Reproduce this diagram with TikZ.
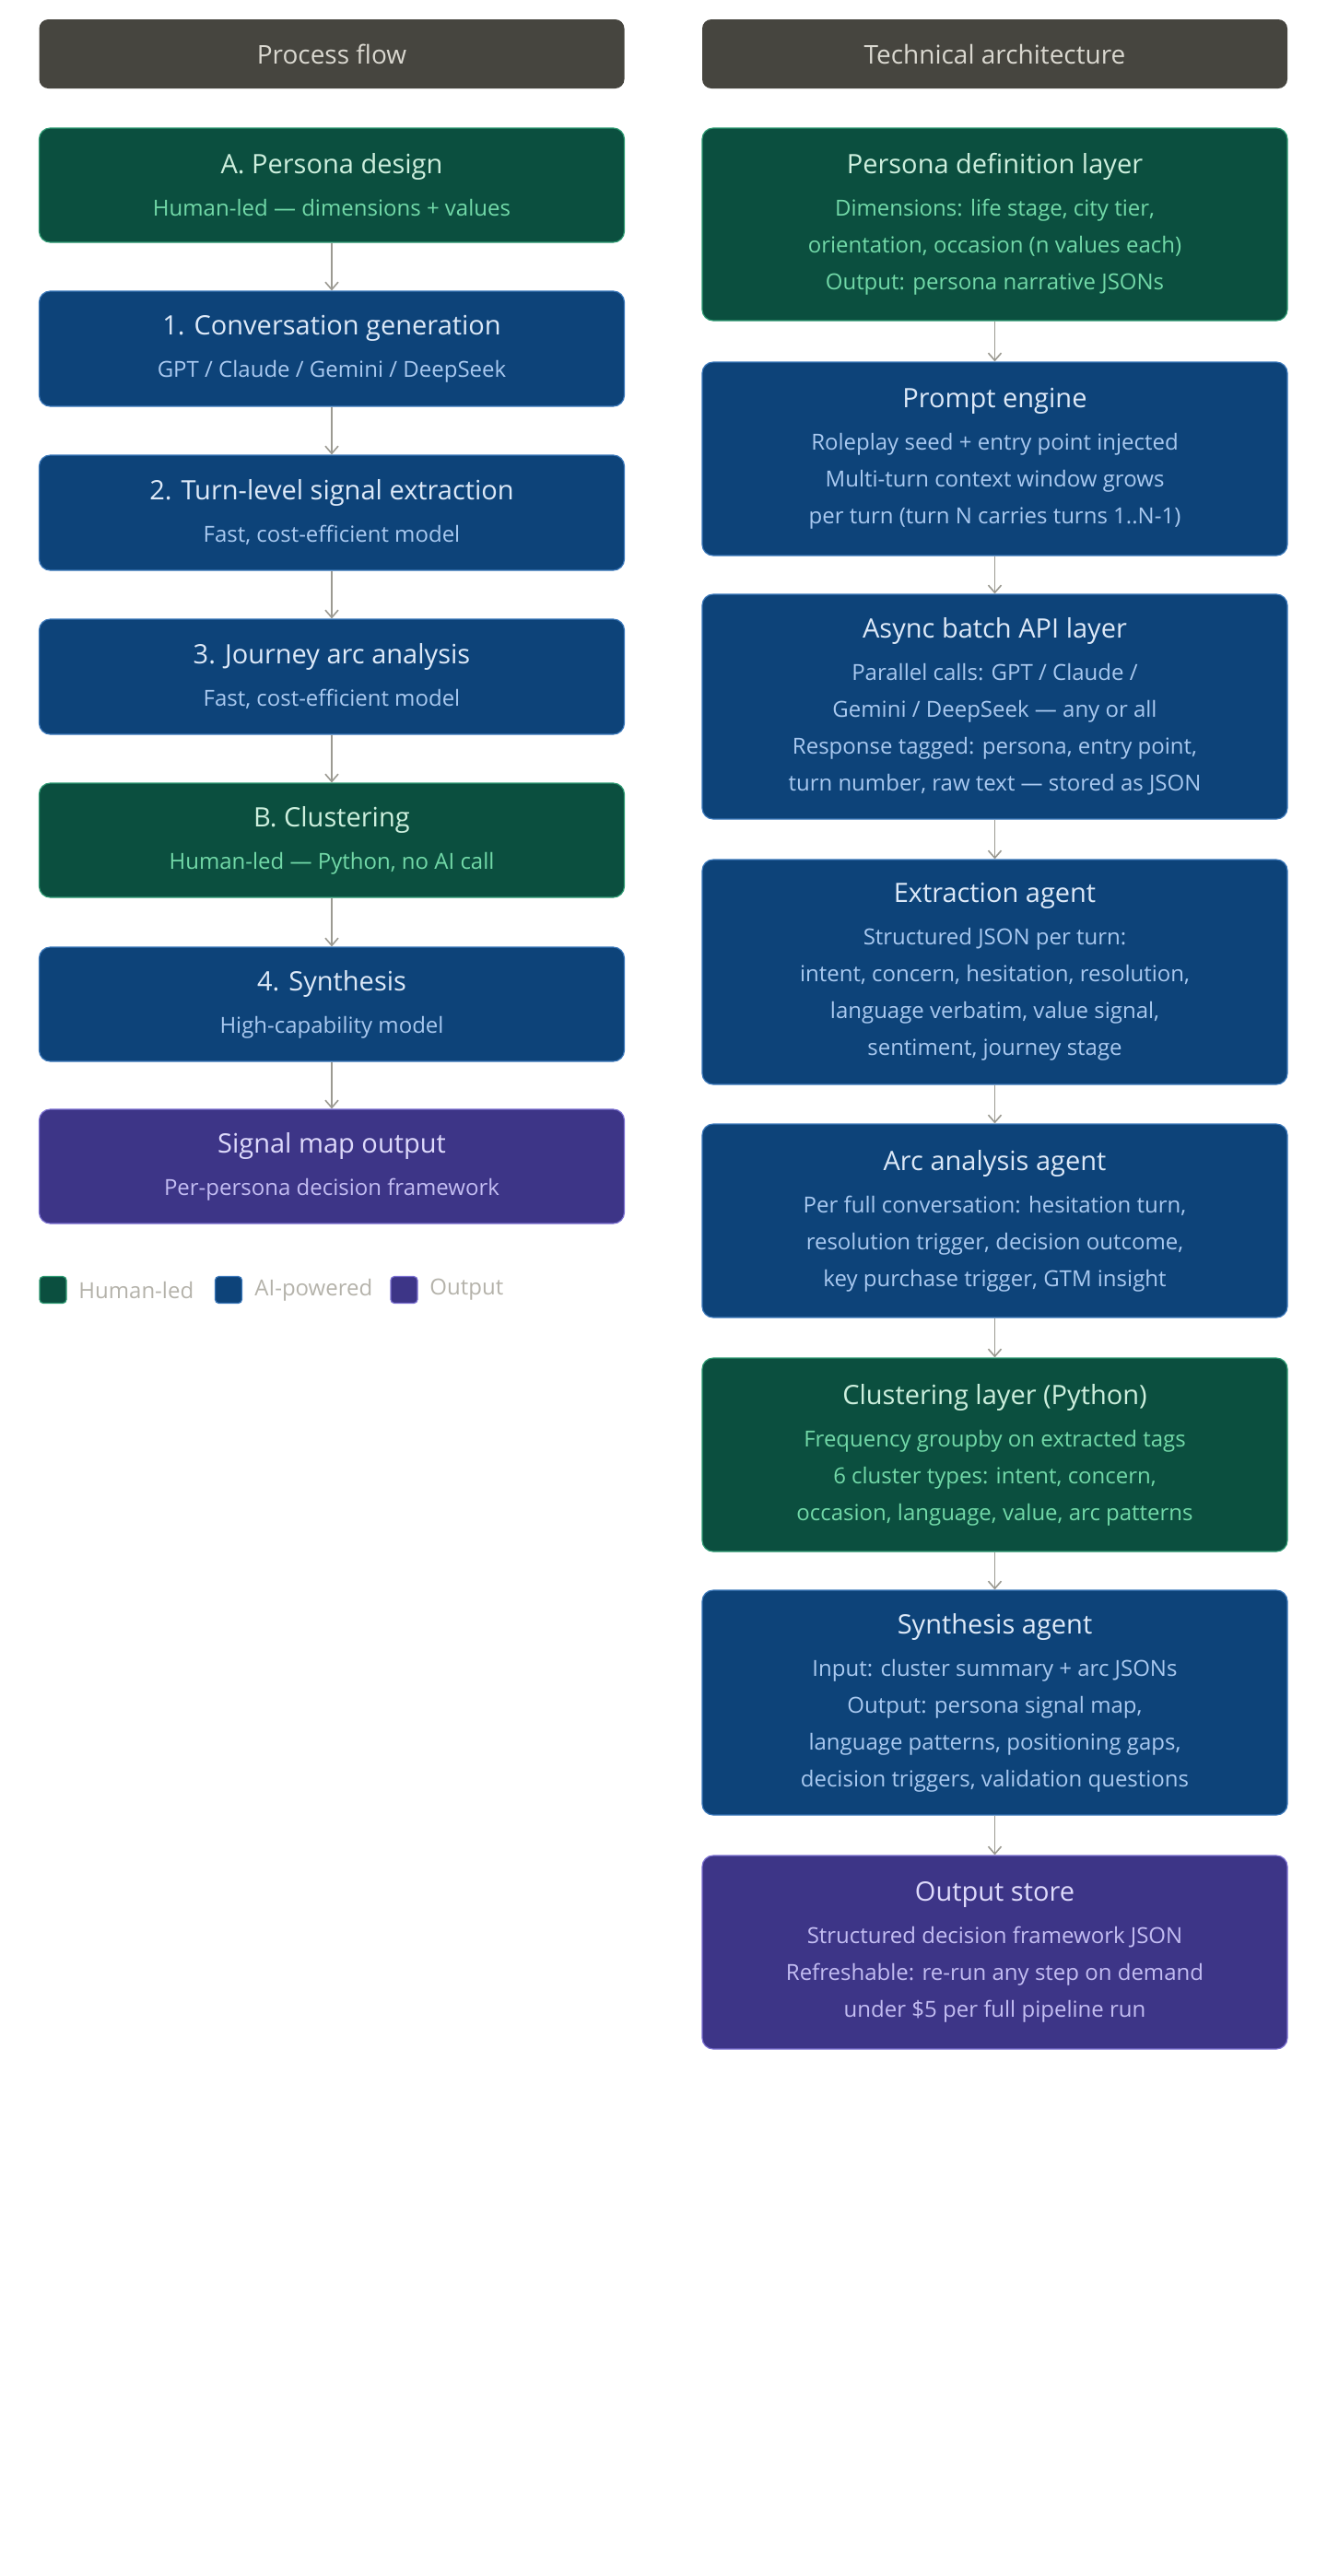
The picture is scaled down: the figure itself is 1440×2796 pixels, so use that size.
\documentclass[tikz,border=0pt]{standalone}
\usepackage{fontspec}
\setmainfont{Open Sans}
\usepackage{xcolor}
\usetikzlibrary{arrows.meta}
\definecolor{hdfill}{HTML}{46453F}
\definecolor{hdtext}{HTML}{DAD8D0}
\definecolor{grfill}{HTML}{0B4F3F}
\definecolor{grline}{HTML}{2E9A72}
\definecolor{grtitle}{HTML}{CDEFDD}
\definecolor{grsub}{HTML}{72D9A8}
\definecolor{blfill}{HTML}{0D4379}
\definecolor{blline}{HTML}{3B78BA}
\definecolor{bltitle}{HTML}{DDE9F8}
\definecolor{blsub}{HTML}{A9C9F0}
\definecolor{pufill}{HTML}{3D3587}
\definecolor{puline}{HTML}{7A6FD0}
\definecolor{putitle}{HTML}{DEDAFB}
\definecolor{pusub}{HTML}{C3BDF2}
\definecolor{arrowgray}{HTML}{9C9A92}
\definecolor{legtext}{HTML}{B4B2AA}
\newcommand{\ttl}[2]{{\color{#1}\fontsize{14.5}{18}\selectfont #2}\\[3pt]}
\tikzset{
  box/.style={rounded corners=6pt, line width=0.6pt, minimum width=317.5pt, align=center, inner sep=0pt},
  human/.style={box, fill=grfill, draw=grline, text=grsub},
  ai/.style={box, fill=blfill, draw=blline, text=blsub},
  result/.style={box, fill=pufill, draw=puline, text=pusub},
  head/.style={rounded corners=5pt, fill=hdfill, text=hdtext, minimum width=317.5pt, minimum height=37.5pt, font=\fontsize{14}{17}\selectfont},
  flow/.style={draw=arrowgray, line width=0.8pt, -{Straight Barb[length=4pt,width=7pt]}},
  key/.style={rounded corners=2pt, minimum size=14.5pt, inner sep=0pt, line width=0.6pt},
  keytext/.style={text=legtext, anchor=west, font=\fontsize{12}{14}\selectfont, inner sep=0pt}
}
\begin{document}
\begin{tikzpicture}[x=0.5pt,y=-0.5pt, font=\fontsize{12}{20}\selectfont]
\useasboundingbox (0,0) rectangle (1440,2796);
% headers
\node[head] (HeadL) at (360,58.5) {Process flow};
\node[head] (HeadR) at (1079.5,58.5) {Technical architecture};
% process flow
\node[human, minimum height=62pt] (A) at (360,201) {\ttl{grtitle}{A. Persona design}Human-led — dimensions + values};
\node[ai, minimum height=62.5pt] (S1) at (360,378.5) {\ttl{bltitle}{1. Conversation generation}GPT / Claude / Gemini / DeepSeek};
\node[ai, minimum height=62.5pt] (S2) at (360,556.5) {\ttl{bltitle}{2. Turn-level signal extraction}Fast, cost-efficient model};
\node[ai, minimum height=62.5pt] (S3) at (360,734.5) {\ttl{bltitle}{3. Journey arc analysis}Fast, cost-efficient model};
\node[human, minimum height=62pt] (B) at (360,912) {\ttl{grtitle}{B. Clustering}Human-led — Python, no AI call};
\node[ai, minimum height=62pt] (S4) at (360,1090) {\ttl{bltitle}{4. Synthesis}High-capability model};
\node[result, minimum height=62pt] (Map) at (360,1266) {\ttl{putitle}{Signal map output}Per-persona decision framework};
\draw[flow] (A) -- (S1);
\draw[flow] (S1) -- (S2);
\draw[flow] (S2) -- (S3);
\draw[flow] (S3) -- (B);
\draw[flow] (B) -- (S4);
\draw[flow] (S4) -- (Map);
% legend
\node[key, fill=grfill, draw=grline] (KeyH) at (57.5,1400) {};
\node[keytext] (KeyHT) at (85,1400) {Human-led};
\node[key, fill=blfill, draw=blline] (KeyA) at (248,1400) {};
\node[keytext] (KeyAT) at (276,1400) {AI-powered};
\node[key, fill=pufill, draw=puline] (KeyO) at (438.5,1400) {};
\node[keytext] (KeyOT) at (466,1400) {Output};
% technical architecture
\node[human, minimum height=104.5pt] (Def) at (1079.5,243.5) {\ttl{grtitle}{Persona definition layer}Dimensions: life stage, city tier,\\orientation, occasion (n values each)\\Output: persona narrative JSONs};
\node[ai, minimum height=105pt] (Prompt) at (1079.5,498) {\ttl{bltitle}{Prompt engine}Roleplay seed + entry point injected\\Multi-turn context window grows\\per turn (turn N carries turns 1..N-1)};
\node[ai, minimum height=122pt] (Batch) at (1079.5,767) {\ttl{bltitle}{Async batch API layer}Parallel calls: GPT / Claude /\\Gemini / DeepSeek — any or all\\Response tagged: persona, entry point,\\turn number, raw text — stored as JSON};
\node[ai, minimum height=122pt] (Extract) at (1079.5,1055) {\ttl{bltitle}{Extraction agent}Structured JSON per turn:\\intent, concern, hesitation, resolution,\\language verbatim, value signal,\\sentiment, journey stage};
\node[ai, minimum height=105pt] (Arc) at (1079.5,1325) {\ttl{bltitle}{Arc analysis agent}Per full conversation: hesitation turn,\\resolution trigger, decision outcome,\\key purchase trigger, GTM insight};
\node[human, minimum height=105pt] (Clust) at (1079.5,1579) {\ttl{grtitle}{Clustering layer (Python)}Frequency groupby on extracted tags\\6 cluster types: intent, concern,\\occasion, language, value, arc patterns};
\node[ai, minimum height=122pt] (Synth) at (1079.5,1848) {\ttl{bltitle}{Synthesis agent}Input: cluster summary + arc JSONs\\Output: persona signal map,\\language patterns, positioning gaps,\\decision triggers, validation questions};
\node[result, minimum height=105pt] (Store) at (1079.5,2119) {\ttl{putitle}{Output store}Structured decision framework JSON\\Refreshable: re-run any step on demand\\under \$5 per full pipeline run};
\draw[flow] (Def) -- (Prompt);
\draw[flow] (Prompt) -- (Batch);
\draw[flow] (Batch) -- (Extract);
\draw[flow] (Extract) -- (Arc);
\draw[flow] (Arc) -- (Clust);
\draw[flow] (Clust) -- (Synth);
\draw[flow] (Synth) -- (Store);
\end{tikzpicture}
\end{document}
